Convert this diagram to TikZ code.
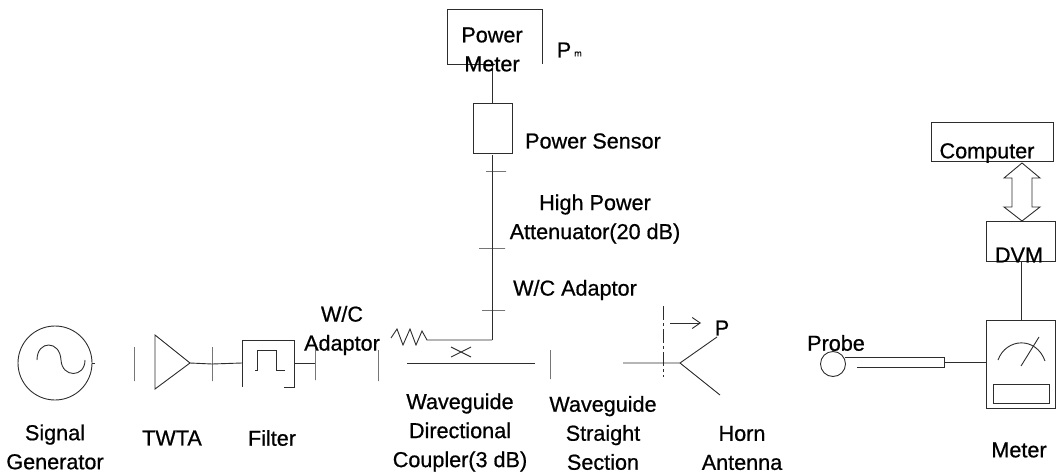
\documentclass[tikz,border=0pt]{standalone}
\usepackage{fontspec}
\setmainfont{Liberation Sans}[FakeBold=0.7]
\usetikzlibrary{arrows.meta,positioning,calc}
\definecolor{linecol}{RGB}{45,45,45}
\tikzset{
  % plain wire
  wire/.style={draw=linecol, line width=0.9pt},
  % instrument box
  ibox/.style={rectangle, wire, inner sep=0pt, outer sep=0pt},
  % box drawn by hand, left open in places
  obox/.style={rectangle, inner sep=0pt, outer sep=0pt},
  % flange ticks on the lines
  vtick/.style={rectangle, wire, inner sep=0pt, outer sep=0pt, minimum width=0pt, minimum height=#1},
  vtick/.default={32pt},
  htick/.style={rectangle, wire, inner sep=0pt, outer sep=0pt, minimum height=0pt, minimum width=#1},
  htick/.default={22pt},
  % text labels
  lbl/.style={align=center, font=\fontsize{21.6}{29}\selectfont, text=black, inner sep=0pt},
}

\begin{document}
\begin{tikzpicture}[x=1pt,y=-1pt]
  \useasboundingbox (0,0) rectangle (1057,473);
  % source side
  \node[circle, wire, minimum size=74pt, inner sep=0pt, outer sep=0pt] (gen) at (55,363) {};
  \coordinate (genout) at (95,363);
  \draw[wire] (gen) -- (genout);
  \draw[wire] (37,360) .. controls (37,340) and (60,340) .. (61,360)
    .. controls (62,378) and (85,378) .. (85,360);
  \node[vtick=34pt] (t1) at (134,364) {};
  \coordinate (twtaup) at (155,335);
  \coordinate (twtadn) at (155,389);
  \coordinate (twtaout) at (190,363);
  \draw[wire] (twtaup) -- (twtaout) -- (twtadn) -- cycle;
  \node[vtick=34pt] (t2) at (212,364) {};
  \node[obox, minimum width=52pt, minimum height=47pt] (filter) at (268,363.5) {};
  \draw[wire] (filter.south west) -- (filter.north west) -- (filter.north east)
    -- (filter.south east) -- ++(-10,0);
  \draw[wire] (255,370) -- (257,370) -- (257,350) -- (276,350) -- (276,370) -- (285,370);
  \draw[wire] (twtaout) -- (t2) -- (filter.west |- twtaout);
  \node[vtick=33pt] (t3) at (315,363.5) {};
  \draw[wire] (filter.east |- t3) -- (t3);
  \node[vtick=31pt] (t4) at (378,365.5) {};
  % coupler
  \coordinate (loadin) at (391,338);
  \coordinate (loadout) at (427,340);
  \coordinate (bend) at (492,340);
  \draw[wire] (loadin) -- (397,329) -- (403,345) -- (410,329) -- (416,345) -- (422,331) -- (loadout) -- (bend);
  \draw[wire] (451,347) -- (471,357) (451,357) -- (471,347);
  \coordinate (guidein) at (407,363);
  \node[vtick=29pt] (t5) at (550,364.5) {};
  \coordinate (guideout) at (535,363);
  \draw[wire] (guidein) -- (guideout);
  % horn
  \coordinate (hornin) at (623,363);
  \coordinate (throat) at (680,363);
  \coordinate (hornup) at (717,337);
  \coordinate (horndn) at (720,395);
  \draw[draw=linecol, line width=0.9pt, dash pattern=on 14pt off 3pt on 3pt off 3pt] (663,306) -- (663,377);
  \draw[wire] (hornin) -- (throat) -- (hornup);
  \draw[wire] (throat) -- (horndn);
  \coordinate (arrowa) at (670,323);
  \coordinate (arrowb) at (701,323);
  \draw[wire, -{Straight Barb[length=8pt,width=11pt]}] (arrowa) -- (arrowb);
  % sampling arm
  \node[obox, minimum width=95pt, minimum height=55pt] (pmeter) at (494.5,36.5) {};
  \draw[wire] (pmeter.south) -- (pmeter.south west) -- (pmeter.north west)
    -- (pmeter.north east) -- (pmeter.south east);
  \node[ibox, minimum width=39pt, minimum height=50pt] (sensor) at (492.5,128) {};
  \node[htick=20pt] (t7) at (496,171) {};
  \node[htick=26pt] (t8) at (492,248) {};
  \node[htick=23pt] (t9) at (493.5,310) {};
  \draw[wire] (492,64) -- (492,103);
  \draw[wire] (bend) -- (492,155);
  % measurement side
  \node[ibox, minimum width=122pt, minimum height=39pt] (comp) at (992,141.5) {};
  \node[ibox, minimum width=69pt, minimum height=40pt] (dvm) at (1020.5,241) {};
  \coordinate (bustop) at (1022,163);
  \coordinate (busbot) at (1022,221);
  \draw[wire] (bustop) -- (1040,178) -- (1032,178) -- (1032,207) -- (1040,207) -- (busbot)
    -- (1004,207) -- (1012,207) -- (1012,178) -- (1004,178) -- cycle;
  \node[ibox, minimum width=69pt, minimum height=88pt] (meter) at (1020.5,364) {};
  \draw[wire] (dvm.south -| 1021,0) -- (meter.north -| 1021,0);
  \draw[wire] (998,360) .. controls (1006,338) and (1036,336) .. (1045,361);
  \draw[wire] (1021,366) -- (1039,337);
  \node[ibox, minimum width=56pt, minimum height=19pt] (disp) at (1021,393.5) {};
  \node[circle, wire, minimum size=25pt, inner sep=0pt, outer sep=0pt] (probe) at (833,364) {};
  \node[obox, minimum width=99pt, minimum height=10pt, anchor=east] (tube) at (944,362) {};
  \draw[wire] (tube.north west) -- (tube.north east) -- (tube.south east) -- ([xshift=12pt]tube.south west);
  \draw[wire] (tube.east) -- (meter.west |- tube.east);
  % labels
  \node[lbl] (lgen) at (55,447) {Signal\\Generator};
  \node[lbl] (ltwta) at (172,438) {TWTA};
  \node[lbl] (lfilter) at (272,438) {Filter};
  \node[lbl] (ladapt) at (342,330.5) {W/C\\Adaptor};
  \node[lbl] (lcoupler) at (460,432.5) {Waveguide\\Directional\\Coupler(3 dB)};
  \node[lbl] (lstraight) at (603,433) {Waveguide\\Straight\\Section};
  \node[lbl] (lhorn) at (742,448) {Horn\\Antenna};
  \node[lbl] (lmeter) at (1019,450) {Meter};
  \node[lbl] (lpower) at (492,49.5) {Power\\Meter};
  \node[lbl] (lpm) at (564,50) {P};
  \node[lbl, font=\fontsize{9}{11}\selectfont] (lpmsub) at (578,54) {m};
  \node[lbl] (lsensor) at (593,141) {Power Sensor};
  \node[lbl] (latten) at (595,219) {High Power\\Attenuator(20 dB)};
  \node[lbl] (ladapt2) at (575,290) {W/C Adaptor};
  \node[lbl] (lp) at (722,328) {P};
  \node[lbl] (lcomp) at (987,153) {Computer};
  \node[lbl] (ldvm) at (1019,255) {DVM};
  \node[lbl] (lprobe) at (836,343) {Probe};
\end{tikzpicture}
\end{document}
